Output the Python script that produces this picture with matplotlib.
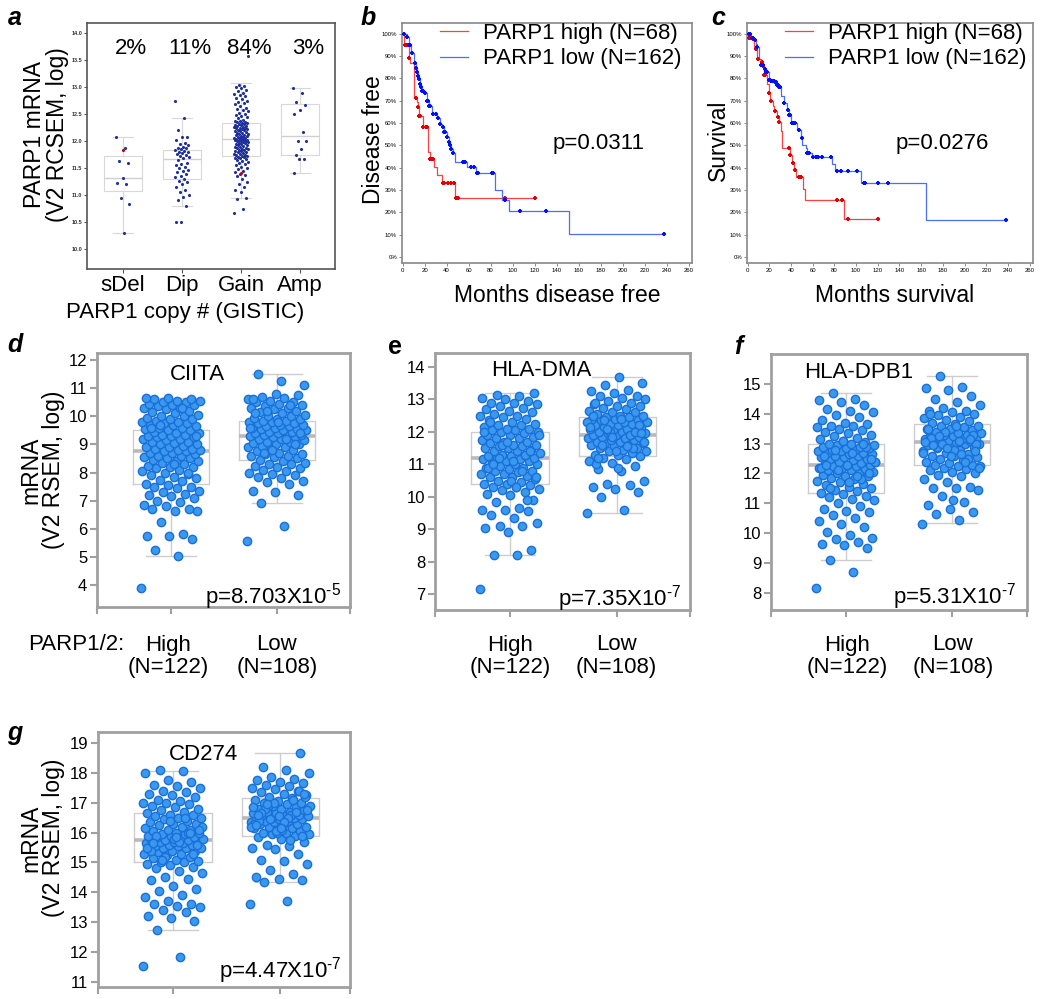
import numpy as np
import matplotlib.pyplot as plt

plt.rcParams['font.family'] = ['Liberation Sans', 'DejaVu Sans']
plt.rcParams['mathtext.fontset'] = 'custom'
plt.rcParams['mathtext.rm'] = 'Liberation Sans'
plt.rcParams['mathtext.default'] = 'rm'

# ---------------- data ----------------
# panel a: PARP1 mRNA by copy number
cn_groups = ['sDel', 'Dip', 'Gain', 'Amp']
cn_pct = ['2%', '11%', '84%', '3%']
a_sdel = [12.07, 11.87, 11.64, 11.59, 11.31, 11.22, 11.20, 10.94, 10.83, 10.30]
a_dip = [12.75, 12.43, 12.21, 12.07, 12.07, 12.02, 11.97, 11.95, 11.93, 11.90, 11.88, 11.87,
         11.85, 11.83, 11.82, 11.80, 11.80, 11.78, 11.76, 11.75, 11.73, 11.70, 11.68, 11.65,
         11.60, 11.58, 11.55, 11.52, 11.50, 11.47, 11.45, 11.42, 11.40, 11.36, 11.33, 11.30,
         11.27, 11.25, 11.20, 11.15, 11.10, 11.05, 11.00, 10.97, 10.90, 10.80, 10.51, 10.51]
a_gain = [10.67, 10.75, 10.92, 10.95, 11.05, 11.10, 11.15, 11.20, 11.25, 11.30, 11.35, 11.38,
          11.40, 11.43, 11.45, 11.48, 11.50, 11.52, 11.55, 11.57, 11.60, 11.62, 11.63, 11.65,
          11.66, 11.68, 11.69, 11.70, 11.71, 11.72, 11.73, 11.74, 11.75,
          11.76, 11.77, 11.78, 11.79, 11.80, 11.81, 11.82, 11.83, 11.84, 11.85, 11.86, 11.87,
          11.88, 11.89, 11.90, 11.91, 11.92, 11.93, 11.94, 11.95, 11.96, 11.97, 11.98, 11.99,
          12.00, 12.00, 12.01, 12.02, 12.02, 12.03, 12.03, 12.04, 12.04, 12.05, 12.05,
          12.06, 12.07, 12.08, 12.09, 12.10, 12.11, 12.12, 12.13, 12.14, 12.15, 12.16, 12.17,
          12.18, 12.19, 12.20, 12.21, 12.22, 12.23, 12.24, 12.25, 12.25, 12.26, 12.27, 12.28,
          12.29, 12.30, 12.30, 12.31, 12.32, 12.33, 12.34, 12.35, 12.36, 12.37, 12.38,
          12.40, 12.42, 12.44, 12.46, 12.48, 12.50, 12.52, 12.55, 12.57, 12.60, 12.62, 12.65,
          12.68, 12.70, 12.72, 12.75, 12.78, 12.80, 12.83, 12.85, 12.88, 12.90, 12.93, 12.95,
          12.98, 13.00, 13.02, 13.05, 13.58]
a_amp = [12.98, 12.90, 12.73, 12.67, 12.58, 12.50, 12.17, 12.01, 12.01, 11.86, 11.75, 11.67,
         11.67, 11.41]
a_red_group = [0, 2]
a_red_val = [11.83, 11.41]
# whislo, q1, median, q3, whishi
a_box = [[10.30, 11.08, 11.32, 11.73, 12.07],
         [10.80, 11.30, 11.67, 11.83, 12.43],
         [10.94, 11.73, 12.04, 12.33, 13.07],
         [11.41, 11.75, 12.09, 12.69, 12.99]]

# panel b: disease free (months, % surviving)
b_high_t = [0, 1, 5.5, 7, 10, 13, 14, 15, 19, 23, 25, 29, 31, 35.5, 48]
b_high_s = [100, 94.8, 89, 87, 71.4, 69.5, 67, 63, 58, 47, 43.8, 40.5, 36.8, 33, 26.5]
b_high_end = 120
b_high_cens = [2, 4, 6, 12, 14, 15, 16, 19, 21, 22, 25, 26, 28, 37, 38, 41, 44, 47, 49, 50, 93, 120]
b_low_t = [0, 4, 6, 7.5, 10, 12, 13, 14, 15, 16, 17, 18, 20, 22, 24, 27, 31, 34, 36, 38,
           40, 42, 43, 44, 46, 48, 59, 67, 84, 90, 97, 151]
b_low_s = [100, 98.5, 95, 91.5, 87, 84.8, 83, 81, 79.5, 77.5, 76, 74.5, 73.5, 70, 67.7, 64,
           62.2, 59.5, 58, 55.8, 53.6, 51.5, 50.3, 48.5, 46.4, 42.7, 40.5, 37.6, 30, 25.7,
           20.5, 10.2]
b_low_end = 238
b_low_cens = [1, 4, 6, 7, 9, 11, 12, 13, 14, 15, 16, 17, 18, 19, 20, 22, 23, 24, 25, 28, 30,
              32, 34, 37, 38, 39, 40, 42, 43, 44, 46, 55, 56, 57, 62, 65, 68, 69, 81, 82, 93,
              107, 130, 238]

# panel c: overall survival
c_high_t = [0, 0.5, 4, 6, 9, 12, 14, 15, 18, 20, 21, 23, 24.5, 27, 29, 31, 32, 39, 40.5, 43,
            45, 51, 53, 89]
c_high_s = [100, 98.2, 97.5, 93.3, 88.5, 87.3, 85.5, 81.4, 77.5, 73.5, 69.7, 67.5, 65.2, 62.7,
            60.3, 56.5, 48.7, 45.7, 42, 39, 35.7, 30.3, 25.5, 16.8]
c_high_end = 120
c_high_cens = [1, 3, 5, 8, 10, 13, 14, 15, 16, 20, 22, 25, 28, 29, 38, 39, 42, 44, 47, 49, 82,
               87, 93, 120]
c_low_t = [0, 3, 6, 7.6, 8.5, 10.7, 12, 15, 17, 20, 21.4, 24.5, 27, 29, 31, 34, 36.7, 38, 40,
           41, 46, 49, 50.5, 53.5, 55, 59.6, 78, 81, 104.5, 164.5]
c_low_s = [100, 98.2, 97, 95.5, 94, 88.8, 85.9, 84.3, 82.8, 79.2, 78.7, 78.3, 77.2, 76.2, 72,
           69, 66, 63.7, 60.7, 60, 57, 53.2, 50.2, 48.7, 46.5, 44.7, 41.7, 38.7, 33.3, 16.6]
c_low_end = 238
c_low_cens = [1, 2, 4, 5, 7, 9, 12, 13, 14, 16, 17, 18, 20, 21, 22, 23, 24, 25, 26, 27, 28, 29,
              30, 34, 37, 38, 39, 41, 42, 43, 44, 47, 50, 55, 56, 57, 60, 63, 65, 69, 77, 82,
              86, 93, 101, 107, 108, 120, 129, 238]

# panels d-g: mRNA by PARP1/2 group (High N=122, Low N=108)
d_high = [3.9, 5.05, 5.25, 5.65, 5.75, 5.75, 5.8, 6.25, 6.65, 6.65, 6.7, 6.7, 6.8, 6.85, 6.95,
          7.0, 7.1, 7.15, 7.2, 7.25, 7.3, 7.35, 7.45, 7.5, 7.5, 7.55, 7.6, 7.7, 7.75, 7.8,
          7.85, 7.9, 7.95, 8.0, 8.05, 8.1, 8.15, 8.2, 8.2, 8.25, 8.3, 8.35, 8.4, 8.4, 8.45,
          8.5, 8.5, 8.55, 8.6, 8.6, 8.65, 8.7, 8.7, 8.75, 8.75, 8.8, 8.8, 8.85, 8.85, 8.9,
          8.9, 8.95, 9.0, 9.0, 9.05, 9.1, 9.1, 9.15, 9.2, 9.2, 9.25, 9.25, 9.3, 9.3, 9.35,
          9.35, 9.4, 9.4, 9.45, 9.5, 9.5, 9.55, 9.6, 9.6, 9.65, 9.7, 9.7, 9.75, 9.75, 9.8,
          9.8, 9.85, 9.9, 9.9, 9.95, 10.0, 10.0, 10.05, 10.1, 10.15, 10.2, 10.25, 10.3, 10.3,
          10.35, 10.4, 10.4, 10.45, 10.5, 10.5, 10.55, 10.55, 10.6, 10.6, 10.65, 10.65, 10.3,
          9.7, 9.3, 8.3, 9.6, 8.0]
d_low = [5.55, 6.1, 6.9, 7.2, 7.3, 7.35, 7.6, 7.65, 7.7, 7.8, 7.85, 7.9, 7.95, 8.0, 8.05, 8.1,
         8.15, 8.2, 8.25, 8.3, 8.3, 8.35, 8.4, 8.45, 8.5, 8.55, 8.6, 8.6, 8.65, 8.65, 8.7,
         8.75, 8.8, 8.85, 8.9, 8.9, 8.95, 9.0, 9.0, 9.05, 9.1, 9.1, 9.15, 9.2, 9.2, 9.25,
         9.25, 9.3, 9.3, 9.35, 9.35, 9.4, 9.4, 9.45, 9.45, 9.5, 9.5, 9.55, 9.55, 9.6, 9.6,
         9.65, 9.65, 9.7, 9.7, 9.75, 9.75, 9.8, 9.8, 9.85, 9.85, 9.9, 9.9, 9.95, 10.0, 10.0,
         10.05, 10.1, 10.15, 10.2, 10.25, 10.3, 10.3, 10.35, 10.4, 10.45, 10.5, 10.5, 10.55,
         10.6, 10.65, 10.7, 10.75, 10.8, 10.6, 10.4, 10.2, 11.1, 11.25, 11.5, 9.0, 8.8, 9.6,
         9.2, 8.7, 9.4, 9.8, 10.1]
d_box = [[5.05, 7.6, 8.75, 9.5, 10.65], [6.9, 8.45, 9.3, 9.85, 11.5]]

e_high = [7.15, 8.2, 8.2, 8.35, 8.9, 9.05, 9.1, 9.1, 9.2, 9.35, 9.45, 9.55, 9.6, 9.6, 9.65,
          9.85, 9.9, 10.05, 10.1, 10.15, 10.2, 10.25, 10.3, 10.3, 10.35, 10.4, 10.4, 10.45,
          10.5, 10.55, 10.6, 10.6, 10.65, 10.7, 10.7, 10.75, 10.8, 10.8, 10.85, 10.9, 10.9,
          10.95, 11.0, 11.0, 11.05, 11.1, 11.1, 11.15, 11.15, 11.2, 11.2, 11.25, 11.25, 11.3,
          11.3, 11.35, 11.4, 11.4, 11.45, 11.5, 11.5, 11.55, 11.55, 11.6, 11.6, 11.65, 11.7,
          11.7, 11.75, 11.8, 11.8, 11.85, 11.9, 11.9, 11.95, 12.0, 12.0, 12.05, 12.05, 12.1,
          12.1, 12.15, 12.2, 12.2, 12.25, 12.3, 12.35, 12.4, 12.45, 12.5, 12.5, 12.55, 12.6,
          12.65, 12.7, 12.75, 12.8, 12.85, 12.9, 12.9, 12.95, 13.0, 13.05, 13.1, 13.15, 13.2,
          10.5, 10.9, 11.3, 11.6, 11.9, 10.3, 11.0, 11.4, 11.7, 12.0, 10.8, 11.2, 10.6, 11.1,
          12.3, 9.9]
e_low = [9.5, 9.6, 10.0, 10.15, 10.25, 10.3, 10.35, 10.4, 10.5, 10.8, 10.85, 10.95, 11.05,
         11.1, 11.15, 11.2, 11.25, 11.3, 11.3, 11.35, 11.4, 11.4, 11.45, 11.5, 11.5, 11.55,
         11.6, 11.6, 11.65, 11.65, 11.7, 11.7, 11.75, 11.75, 11.8, 11.8, 11.85, 11.85, 11.9,
         11.9, 11.9, 11.95, 11.95, 12.0, 12.0, 12.05, 12.05, 12.1, 12.1, 12.15, 12.15, 12.2,
         12.2, 12.25, 12.25, 12.3, 12.3, 12.35, 12.35, 12.4, 12.4, 12.45, 12.45, 12.5, 12.5,
         12.55, 12.6, 12.6, 12.65, 12.7, 12.75, 12.8, 12.8, 12.85, 12.9, 12.95, 13.0, 13.05,
         13.1, 13.1, 13.2, 13.25, 13.3, 13.45, 13.5, 13.7, 11.0, 11.5, 12.0, 12.3, 11.8, 11.6,
         12.2, 11.4, 12.5, 11.9, 12.1, 11.7, 12.4, 11.2, 12.0, 11.85, 12.15, 11.55, 12.35,
         11.95, 10.9, 12.9]
e_box = [[8.2, 10.4, 11.2, 12.0, 13.2], [9.5, 11.25, 11.9, 12.45, 13.7]]

f_high = [8.15, 8.7, 9.1, 9.5, 9.6, 9.65, 9.7, 9.8, 9.85, 9.95, 10.05, 10.2, 10.3, 10.4, 10.5,
          10.6, 10.7, 10.75, 10.8, 10.9, 11.0, 11.1, 11.15, 11.2, 11.25, 11.3, 11.35, 11.4,
          11.45, 11.5, 11.55, 11.6, 11.65, 11.7, 11.75, 11.8, 11.85, 11.9, 11.9, 11.95, 12.0,
          12.0, 12.05, 12.1, 12.1, 12.15, 12.2, 12.2, 12.25, 12.25, 12.3, 12.3, 12.35, 12.35,
          12.4, 12.4, 12.45, 12.5, 12.5, 12.55, 12.55, 12.6, 12.6, 12.65, 12.65, 12.7, 12.7,
          12.75, 12.75, 12.8, 12.8, 12.85, 12.85, 12.9, 12.9, 12.95, 12.95, 13.0, 13.0, 13.05,
          13.1, 13.15, 13.2, 13.25, 13.3, 13.35, 13.4, 13.45, 13.5, 13.55, 13.6, 13.6, 13.65,
          13.7, 13.8, 13.9, 13.95, 14.05, 14.1, 14.15, 14.3, 14.4, 14.45, 14.5, 14.7, 12.0,
          12.3, 12.6, 11.8, 12.1, 12.4, 12.7, 11.5, 12.9, 13.1, 12.2, 11.9, 12.8, 12.5, 11.7,
          12.3, 13.0]
f_low = [10.3, 10.45, 10.65, 10.7, 10.8, 10.95, 11.05, 11.25, 11.45, 11.5, 11.5, 11.55, 11.7,
         11.8, 11.9, 11.95, 12.0, 12.05, 12.1, 12.15, 12.2, 12.25, 12.25, 12.3, 12.3, 12.35,
         12.4, 12.45, 12.5, 12.55, 12.6, 12.6, 12.65, 12.7, 12.75, 12.8, 12.85, 12.9, 12.9,
         12.95, 13.0, 13.0, 13.0, 13.05, 13.05, 13.1, 13.1, 13.15, 13.15, 13.2, 13.2, 13.25,
         13.25, 13.3, 13.3, 13.35, 13.35, 13.4, 13.45, 13.5, 13.5, 13.55, 13.6, 13.6, 13.65,
         13.7, 13.75, 13.8, 13.85, 13.9, 13.95, 14.0, 14.05, 14.1, 14.1, 14.2, 14.3, 14.4,
         14.5, 14.6, 14.8, 14.85, 14.9, 15.25, 13.0, 12.8, 13.2, 12.5, 13.4, 12.7, 13.1, 12.9,
         13.3, 12.6, 13.5, 12.4, 13.0, 12.2, 13.6, 12.95, 13.15, 12.85, 13.05, 12.65, 13.25,
         12.75, 11.1, 14.0]
f_box = [[9.1, 11.35, 12.3, 13.0, 14.7], [10.35, 12.3, 13.05, 13.65, 15.25]]

g_high = [11.55, 11.85, 12.75, 13.05, 13.15, 13.2, 13.35, 13.4, 13.5, 13.55, 13.6, 13.6, 13.7,
          13.85, 13.9, 14.05, 14.1, 14.2, 14.4, 14.45, 14.5, 14.65, 14.7, 14.8, 14.85, 14.9,
          14.95, 15.0, 15.0, 15.05, 15.1, 15.15, 15.2, 15.25, 15.3, 15.3, 15.35, 15.4, 15.4,
          15.45, 15.5, 15.5, 15.5, 15.55, 15.55, 15.6, 15.6, 15.65, 15.65, 15.7, 15.7, 15.7,
          15.75, 15.75, 15.75, 15.8, 15.8, 15.85, 15.85, 15.9, 15.9, 15.95, 15.95, 16.0, 16.0,
          16.05, 16.1, 16.1, 16.15, 16.2, 16.25, 16.3, 16.3, 16.35, 16.4, 16.45, 16.5, 16.5,
          16.55, 16.6, 16.6, 16.65, 16.7, 16.75, 16.8, 16.85, 16.9, 16.95, 17.0, 17.0, 17.05,
          17.1, 17.2, 17.25, 17.3, 17.35, 17.4, 17.5, 17.55, 17.6, 17.7, 17.75, 18.0, 18.05,
          18.1, 15.6, 15.8, 15.4, 16.0, 15.2, 16.2, 15.7, 15.9, 15.3, 16.4, 15.5, 16.5, 15.1,
          16.1, 15.85, 15.65, 16.0]
g_low = [13.6, 13.7, 14.35, 14.4, 14.45, 14.5, 14.6, 14.75, 14.95, 15.05, 15.1, 15.3, 15.45,
         15.5, 15.55, 15.6, 15.7, 15.8, 15.85, 15.9, 15.95, 15.95, 16.0, 16.0, 16.05, 16.1,
         16.15, 16.15, 16.2, 16.2, 16.25, 16.3, 16.3, 16.35, 16.35, 16.4, 16.4, 16.45, 16.45,
         16.5, 16.5, 16.5, 16.55, 16.55, 16.6, 16.6, 16.65, 16.65, 16.7, 16.7, 16.75, 16.8,
         16.8, 16.85, 16.9, 16.9, 16.95, 17.0, 17.0, 17.05, 17.1, 17.15, 17.2, 17.25, 17.3,
         17.35, 17.4, 17.45, 17.5, 17.55, 17.6, 17.65, 17.7, 17.75, 17.8, 17.85, 18.0, 18.1,
         18.2, 18.65, 16.0, 16.3, 16.6, 16.9, 17.2, 16.1, 16.4, 16.7, 17.0, 16.2, 16.5, 16.8,
         15.9, 16.55, 16.25, 17.1, 16.45, 16.75, 16.35, 16.65, 17.4, 16.05, 16.85, 15.75,
         16.95, 17.3, 16.15, 16.6]
g_box = [[12.75, 15.0, 15.75, 16.65, 18.05], [14.35, 15.9, 16.5, 17.15, 18.65]]

# ---------------- figure ----------------
W, H = 1040, 999
fig = plt.figure(figsize=(W / 100, H / 100), dpi=100)


def add_ax(l, t, r, b):
    return fig.add_axes([l / W, 1 - b / H, (r - l) / W, (b - t) / H])


def ftext(x, y, s, **kw):
    fig.text(x / W, 1 - y / H, s, **kw)


def jitter(n, width):
    return ((np.arange(n) * 0.618034) % 1 - 0.5) * width


def box_stats(rows):
    return [dict(whislo=r[0], q1=r[1], med=r[2], q3=r[3], whishi=r[4]) for r in rows]


# panel a
ax = add_ax(87, 23, 335, 269)
ax.bxp(box_stats(a_box), positions=range(4), widths=0.64, capwidths=0.33, showfliers=False,
       manage_ticks=False,
       boxprops=dict(color='#d8d8d8', lw=0.8), medianprops=dict(color='#d0d0d0', lw=1),
       whiskerprops=dict(color='#d8d8d8', lw=0.8), capprops=dict(color='#d8d8d8', lw=0.8))
for i, vals in enumerate([a_sdel, a_dip, a_gain, a_amp]):
    ax.scatter(i + jitter(len(vals), 0.24), vals, s=5, color='#1f2f9e', lw=0, zorder=3)
ax.scatter(a_red_group, a_red_val, s=5, color='#c00000', lw=0, zorder=4)
for i, p in enumerate(cn_pct):
    ax.text(i + 0.13, 13.72, p, ha='center', va='center', fontsize=16)
ax.set_xlim(-0.61, 3.59)
ax.set_ylim(9.63, 14.19)
ax.set_xticks(range(4))
ax.set_xticklabels(cn_groups, fontsize=16)
ax.set_yticks(np.arange(10, 14.01, 0.5))
ax.set_yticklabels(['%.1f' % v for v in np.arange(10, 14.01, 0.5)], fontsize=4, fontweight='bold')
ax.tick_params(axis='x', length=3, pad=1, color='#555555')
ax.tick_params(axis='y', length=2, pad=1.5, color='#555555', labelcolor='#333333')
for sp in ax.spines.values():
    sp.set_color('#555555')
    sp.set_linewidth(1.2)
ftext(46, 135, 'PARP1 mRNA\n(V2 RCSEM, log)', rotation=90, ha='center', va='center',
      fontsize=16.5, linespacing=1.0)
ftext(185, 312, 'PARP1 copy # (GISTIC)', ha='center', va='center', fontsize=16)


# panels b, c
def km_panel(ax, groups, ptxt, leg_x):
    for t, s, end, cens, lc, mc, lab in groups:
        tt = list(t) + [end]
        ss = list(s) + [s[-1]]
        ax.step(tt, ss, where='post', color=lc, lw=0.9, label=lab)
        idx = np.searchsorted(t, cens, side='right') - 1
        ax.plot(cens, np.array(s)[idx], '+', color=mc, ms=3.5, mew=1.5, zorder=3)
    ax.set_xlim(-0.5, 263)
    ax.set_ylim(-2.7, 104.8)
    ax.set_xticks(range(0, 261, 20))
    ax.set_xticklabels([str(v) for v in range(0, 261, 20)], fontsize=4.3)
    ax.set_yticks(range(0, 101, 10))
    ax.set_yticklabels(['%d%%' % v for v in range(0, 101, 10)], fontsize=4.3)
    ax.tick_params(length=2, width=0.6, pad=1.5, color='#777777')
    for sp in ax.spines.values():
        sp.set_color('#888888')
        sp.set_linewidth(1.2)
    ax.legend(loc='upper left', bbox_to_anchor=(leg_x, 1.0), frameon=False, fontsize=16,
              handlelength=1.25, handletextpad=0.7, labelspacing=0.2, borderpad=0,
              borderaxespad=0)
    ax.text(0.52, 0.5, ptxt, transform=ax.transAxes, fontsize=16, va='center')


ax = add_ax(402, 23, 692, 263)
km_panel(ax, [(b_high_t, b_high_s, b_high_end, b_high_cens, '#ff4040', '#e00000', 'PARP1 high (N=68)'),
              (b_low_t, b_low_s, b_low_end, b_low_cens, '#4a6cff', '#0010ff', 'PARP1 low (N=162)')],
         'p=0.0311', (440 - 402) / 290)
ftext(373, 140, 'Disease free', rotation=90, ha='center', va='center', fontsize=16.5)
ftext(557, 295, 'Months disease free', ha='center', va='center', fontsize=16.5)

ax = add_ax(747, 23, 1033, 263)
km_panel(ax, [(c_high_t, c_high_s, c_high_end, c_high_cens, '#ff4040', '#e00000', 'PARP1 high (N=68)'),
              (c_low_t, c_low_s, c_low_end, c_low_cens, '#4a6cff', '#0010ff', 'PARP1 low (N=162)')],
         'p=0.0276', (785 - 747) / 286)
ftext(718, 140, 'Survival', rotation=90, ha='center', va='center', fontsize=16.5)
ftext(895, 295, 'Months survival', ha='center', va='center', fontsize=16.5)


# panels d-g
def strip_panel(box, hi, lo, stats, xlim, ylim, yticks):
    ax = add_ax(*box)
    ax.bxp(box_stats(stats), positions=[0, 1], widths=0.72, capwidths=0.47, showfliers=False,
           manage_ticks=False,
           boxprops=dict(color='#cdcdcd', lw=1), medianprops=dict(color='#b9b9b9', lw=2.6),
           whiskerprops=dict(color='#cdcdcd', lw=1), capprops=dict(color='#cdcdcd', lw=1))
    for i, vals in enumerate((hi, lo)):
        ax.scatter(i + jitter(len(vals), 0.56), vals, s=36, facecolor='#3a98ef',
                   edgecolor='#1a70d8', lw=1, zorder=3)
    ax.set_xlim(xlim)
    ax.set_ylim(ylim)
    ax.set_yticks(yticks)
    ax.set_xticks([xlim[0], 0, 1, xlim[1]])
    ax.set_xticklabels([])
    for sp in ax.spines.values():
        sp.set_color('#a0a0a0')
        sp.set_linewidth(2)
    ax.tick_params(color='#a0a0a0', labelcolor='black', labelsize=12, width=1.5, length=5, pad=2)
    return ax


strip_panel((97, 353, 350, 607), d_high, d_low, d_box, (-0.70, 1.69), (3.22, 12.25), range(4, 13))
strip_panel((435, 353, 690, 610), e_high, e_low, e_box, (-0.70, 1.68), (6.51, 14.43), range(7, 15))
strip_panel((771, 354, 1027, 610), f_high, f_low, f_box, (-0.71, 1.71), (7.43, 16.0), range(8, 16))
strip_panel((98, 732, 350, 987), g_high, g_low, g_box, (-0.70, 1.65), (10.83, 19.37), range(11, 20))

# gene titles and p-values (superscript uses a plain hyphen, as in the original)
ftext(197, 375, 'CIITA', ha='center', va='center', fontsize=16)
ftext(541, 370, 'HLA-DMA', ha='center', va='center', fontsize=16)
ftext(859, 373, 'HLA-DPB1', ha='center', va='center', fontsize=16)
ftext(203, 754, 'CD274', ha='center', va='center', fontsize=16)
ftext(341, 603, 'p=8.703X10$^{\u20105}$', ha='right', va='baseline', fontsize=16)
ftext(681, 605, 'p=7.35X10$^{\u20107}$', ha='right', va='baseline', fontsize=16)
ftext(1016, 603, 'p=5.31X10$^{\u20107}$', ha='right', va='baseline', fontsize=16)
ftext(342, 978, 'p=4.47X10$^{\u20107}$', ha='right', va='baseline', fontsize=16)

# y labels
ftext(42, 470, 'mRNA\n(V2 RSEM, log)', rotation=90, ha='center', va='center', fontsize=16.5,
      linespacing=1.0)
ftext(42, 838, 'mRNA\n(V2 RSEM, log)', rotation=90, ha='center', va='center', fontsize=16.5,
      linespacing=1.0)

# group labels
ftext(124, 645, 'PARP1/2:', ha='right', va='center', fontsize=16)
for xh, xl in [(168, 277), (510, 616), (847, 953)]:
    ftext(xh, 645, 'High', ha='center', va='center', fontsize=16)
    ftext(xh, 667, '(N=122)', ha='center', va='center', fontsize=16)
    ftext(xl, 645, 'Low', ha='center', va='center', fontsize=16)
    ftext(xl, 667, '(N=108)', ha='center', va='center', fontsize=16)

# panel letters
for x, y, s, st in [(15, 18, 'a', 'italic'), (368, 18, 'b', 'italic'), (718, 18, 'c', 'italic'),
                    (15, 345, 'd', 'italic'), (395, 347, 'e', 'normal'), (738, 347, 'f', 'italic'),
                    (15, 733, 'g', 'italic')]:
    ftext(x, y, s, ha='center', va='center', fontsize=18, fontweight='bold', fontstyle=st)

fig.savefig('out.png', dpi=100)
